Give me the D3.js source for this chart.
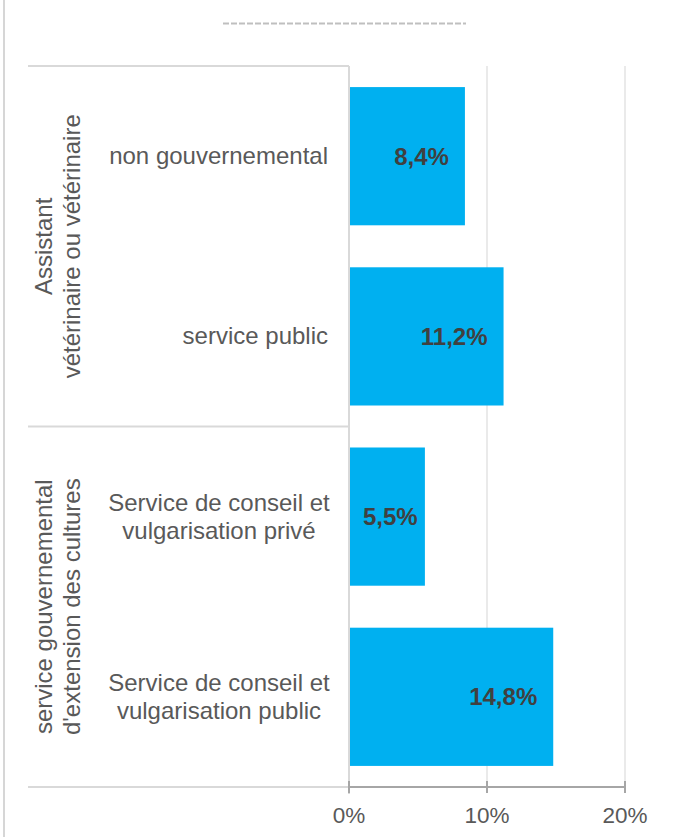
<!DOCTYPE html>
<html>
<head>
<meta charset="utf-8">
<script src="https://cdn.jsdelivr.net/npm/d3@7"></script>
<style>
html,body{margin:0;padding:0;background:#fff;}
svg{display:block;}
text{font-family:Arial,"Liberation Sans",sans-serif;}
</style>
</head>
<body>
<svg id="chart" width="681" height="837"></svg>
<script>
const categories = [
  ["non gouvernemental"],
  ["service public"],
  ["Service de conseil et", "vulgarisation privé"],
  ["Service de conseil et", "vulgarisation public"]
];
const values = [8.4, 11.2, 5.5, 14.8];
const valueLabels = ["8,4%", "11,2%", "5,5%", "14,8%"];
const groups = [
  ["Assistant", "vétérinaire ou vétérinaire"],
  ["service gouvernemental", "d'extension des cultures"]
];
const groupSpans = [[0, 1], [2, 3]];
const xTicks = [0, 10, 20];
const xTickLabels = ["0%", "10%", "20%"];

(function () {
const svg = d3.select("#chart");
const plotTop = 66, plotBottom = 787, x0 = 349, x1 = 625, leftEdge = 28;

const x = d3.scaleLinear().domain([0, 20]).range([x0, x1]);
const y = d3.scaleBand().domain(d3.range(categories.length)).range([plotTop, plotBottom]).paddingInner(0.233).paddingOuter(0.117);
const step = y.step();

// outer frame line
svg.append("line").attr("x1", 4).attr("x2", 4).attr("y1", 0).attr("y2", 837)
  .attr("stroke", "#c8c8c8").attr("stroke-width", 1.5);

// dashed decoration under title
svg.append("line").attr("x1", 223).attr("x2", 466).attr("y1", 23.5).attr("y2", 23.5)
  .attr("stroke", "#bfbfbf").attr("stroke-width", 2).attr("stroke-dasharray", "6,2");

// gridlines
svg.selectAll(".grid").data(xTicks.slice(1)).enter().append("line")
  .attr("x1", d => x(d)).attr("x2", d => x(d)).attr("y1", plotTop).attr("y2", plotBottom)
  .attr("stroke", "#e3e3e3").attr("stroke-width", 1.5);

// category axis frame lines
const sepYs = [plotTop, plotTop + 2 * step, plotBottom];
svg.selectAll(".sep").data(sepYs).enter().append("line")
  .attr("x1", leftEdge).attr("x2", x0).attr("y1", d => d).attr("y2", d => d)
  .attr("stroke", "#d9d9d9").attr("stroke-width", 2);
svg.append("line").attr("x1", x0).attr("x2", x0).attr("y1", plotTop).attr("y2", plotBottom + 7)
  .attr("stroke", "#d9d9d9").attr("stroke-width", 2);

// bars
svg.selectAll(".bar").data(values).enter().append("rect")
  .attr("x", x(0) + 1).attr("y", (d, i) => y(i))
  .attr("width", d => x(d) - x(0) - 1).attr("height", y.bandwidth())
  .attr("fill", "#00b0f0");

// value labels (inside end, kept clear of the bar start)
svg.selectAll(".vlab").data(values).enter().append("text")
  .attr("y", (d, i) => y(i) + y.bandwidth() / 2 + 8.5)
  .attr("text-anchor", "end").attr("font-size", 24).attr("font-weight", "bold")
  .attr("fill", "#404040").text((d, i) => valueLabels[i])
  .attr("x", function (d) {
    const w = this.getComputedTextLength();
    return Math.max(x(d) - 16, x(0) + 14 + w);
  });

// category labels
categories.forEach((lines, i) => {
  const cy = y(i) + y.bandwidth() / 2;
  const t = svg.append("text").attr("font-size", 24).attr("fill", "#595959");
  if (lines.length === 1) {
    t.attr("text-anchor", "end").attr("x", 328).attr("y", cy + 8).text(lines[0]);
  } else {
    t.attr("text-anchor", "middle");
    lines.forEach((l, j) => {
      t.append("tspan").attr("x", 219).attr("y", cy - 6 + j * 28).text(l);
    });
  }
});

// group labels
groups.forEach((lines, gi) => {
  const [a, b] = groupSpans[gi];
  const cy = (y(a) - y.paddingInner() * step / 2 + y(b) + y.bandwidth() + y.paddingInner() * step / 2) / 2;
  const g = svg.append("g").attr("transform", `translate(0,${cy}) rotate(-90)`);
  const t = g.append("text").attr("text-anchor", "middle").attr("font-size", 24).attr("fill", "#595959");
  lines.forEach((l, j) => {
    t.append("tspan").attr("x", 0).attr("y", 52 + j * 28).text(l);
  });
});

// x axis
const xAxis = svg.append("g").attr("transform", `translate(0,${plotBottom})`);
xAxis.append("line").attr("x1", x0).attr("x2", x1).attr("y1", 0).attr("y2", 0)
  .attr("stroke", "#a6a6a6").attr("stroke-width", 2);
xAxis.selectAll(".tick").data(xTicks).enter().append("line")
  .attr("x1", d => x(d)).attr("x2", d => x(d)).attr("y1", -6).attr("y2", 6)
  .attr("stroke", "#a6a6a6").attr("stroke-width", 2);
xAxis.selectAll(".tl").data(xTicks).enter().append("text")
  .attr("x", d => x(d)).attr("y", 36).attr("text-anchor", "middle")
  .attr("font-size", 22.5).attr("fill", "#595959").text((d, i) => xTickLabels[i]);
})();
</script>
</body>
</html>
